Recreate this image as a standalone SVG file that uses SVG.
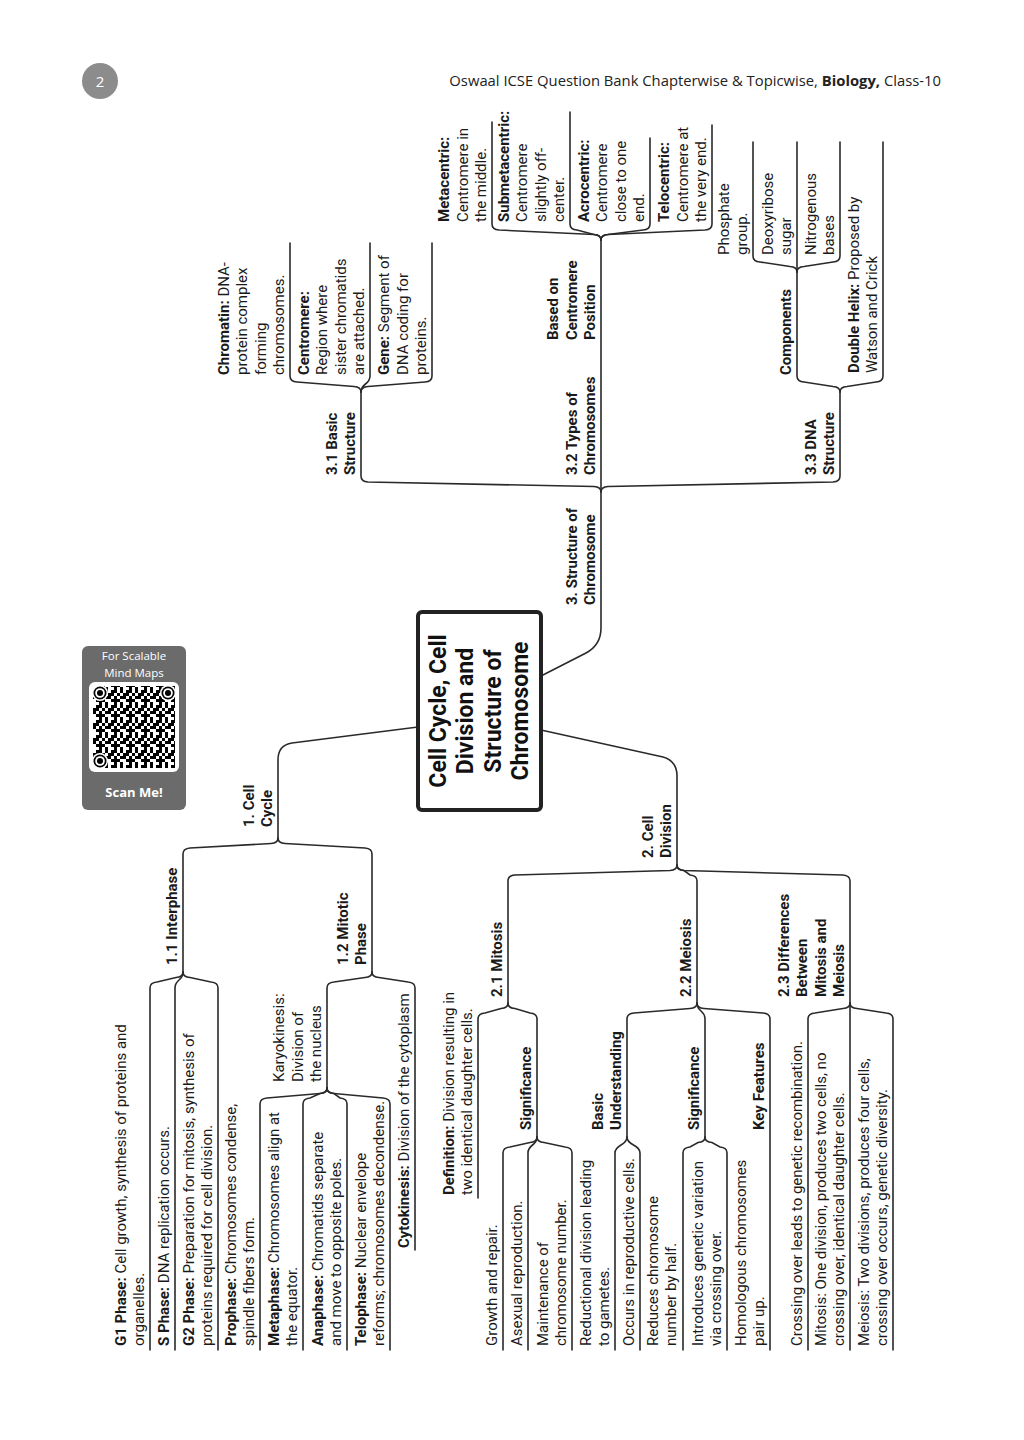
<svg xmlns="http://www.w3.org/2000/svg" width="1024" height="1440" viewBox="0 0 1024 1440">
<defs>
<style>
.t{font-family:Roboto,"Liberation Sans",Arial,sans-serif;font-size:15px;fill:#1a1a1a}
.b{font-weight:bold}
.c{fill:none;stroke:#2a2a2a;stroke-width:1.6;stroke-linecap:round}
.hd{font-family:"Open Sans","Noto Sans","Liberation Sans",sans-serif;fill:#222}
.w{font-family:"Open Sans","Noto Sans","Liberation Sans",sans-serif;fill:#fff}
.rt{font-family:Roboto,"Liberation Sans",Arial,sans-serif;font-size:23px;font-weight:bold;fill:#111}
</style>
<pattern id="qrp" width="15" height="15" patternUnits="userSpaceOnUse">
<rect x="0" y="0" width="3" height="3"/><rect x="6" y="0" width="3" height="3"/><rect x="9" y="0" width="3" height="3"/>
<rect x="3" y="3" width="3" height="3"/><rect x="6" y="3" width="3" height="3"/><rect x="12" y="3" width="3" height="3"/>
<rect x="0" y="6" width="3" height="3"/><rect x="3" y="6" width="3" height="3"/><rect x="9" y="6" width="3" height="3"/>
<rect x="6" y="9" width="3" height="3"/><rect x="9" y="9" width="3" height="3"/><rect x="12" y="9" width="3" height="3"/>
<rect x="0" y="12" width="3" height="3"/><rect x="9" y="12" width="3" height="3"/>
</pattern>
<g id="finder"><circle r="8" fill="#fff"/><circle r="6.5" fill="#000"/><circle r="4.8" fill="#fff"/><circle r="3" fill="#000"/></g>
</defs>
<rect width="1024" height="1440" fill="#fff"/>

<g id="header">
<circle cx="100" cy="81" r="18" fill="#8c8c8c"/>
<text class="w" x="100" y="86.5" font-size="15" text-anchor="middle">2</text>
<text class="hd" x="941" y="86" font-size="14.8" text-anchor="end">Oswaal ICSE Question Bank Chapterwise &amp; Topicwise, <tspan font-weight="bold">Biology,</tspan> Class-10</text>
</g>

<g id="qr">
<rect x="82" y="646" width="104" height="164" rx="6" fill="#6b6b6b"/>
<text class="w" x="134" y="660" font-size="11.5" text-anchor="middle">For Scalable</text>
<text class="w" x="134" y="677" font-size="11.5" text-anchor="middle">Mind Maps</text>
<rect x="89" y="682" width="90" height="90" rx="6" fill="#fff"/>
<rect x="93" y="686" width="82" height="82" fill="url(#qrp)"/>
<use href="#finder" x="100" y="693"/>
<use href="#finder" x="168" y="693"/>
<use href="#finder" x="100" y="761"/>
<text class="w" x="134" y="797" font-size="13" font-weight="bold" text-anchor="middle">Scan Me!</text>
</g>

<g id="connectors">
<path class="c" d="M418,727 L292,743 Q278,745 278,760 L278,838"/>
<path class="c" d="M541,730 L663,757 Q677,761 677,776 L677,865"/>
<path class="c" d="M541,676 L586,653 Q601,645 601,628 L601,240"/>
<path class="c" d="M278,838 Q278,843 271,843.5 L190,848 Q183,848.5 183,854 L183,972"/>
<path class="c" d="M278,838 Q278,843 285,843.5 L365,848 Q372,848.5 372,854 L372,972"/>
<path class="c" d="M183,972 Q183,977 176,977.5 L157,982 Q150,982.5 150,988 L150,1350"/>
<path class="c" d="M183,972 C183,981 175,979 175,988 L175,1350"/>
<path class="c" d="M183,972 Q183,977 190,977.5 L211,982 Q218,982.5 218,988 L218,1350"/>
<path class="c" d="M372,972 Q372,977 365,977.5 L334,982 Q327,982.5 327,988 L327,1088"/>
<path class="c" d="M372,972 Q372,977 379,977.5 L408,982 Q415,982.5 415,988 L415,1250"/>
<path class="c" d="M327,1088 Q327,1093 320,1093.5 L267,1098 Q260,1098.5 260,1104 L260,1350"/>
<path class="c" d="M327,1088 Q327,1093 320,1093.5 L310,1098 Q303,1098.5 303,1104 L303,1350"/>
<path class="c" d="M327,1088 Q327,1093 334,1093.5 L340,1098 Q347,1098.5 347,1104 L347,1350"/>
<path class="c" d="M327,1088 Q327,1093 334,1093.5 L383,1098 Q390,1098.5 390,1104 L390,1350"/>
<path class="c" d="M677,865 Q677,870 670,870.5 L515,875 Q508,875.5 508,881 L508,1003"/>
<path class="c" d="M677,865 Q677,870 684,870.5 L690,875 Q697,875.5 697,881 L697,1003"/>
<path class="c" d="M677,865 Q677,870 684,870.5 L843,875 Q850,875.5 850,881 L850,1003"/>
<path class="c" d="M508,1003 Q508,1008 501,1008.5 L485,1013 Q478,1013.5 478,1019 L478,1198"/>
<path class="c" d="M508,1003 Q508,1008 515,1008.5 L530,1013 Q537,1013.5 537,1019 L537,1137"/>
<path class="c" d="M537,1137 Q537,1142 530,1142.5 L510,1147 Q503,1147.5 503,1153 L503,1350"/>
<path class="c" d="M537,1137 C537,1146 528,1144 528,1153 L528,1350"/>
<path class="c" d="M537,1137 Q537,1142 544,1142.5 L565,1147 Q572,1147.5 572,1153 L572,1350"/>
<path class="c" d="M697,1003 Q697,1008 690,1008.5 L634,1013 Q627,1013.5 627,1019 L627,1137"/>
<path class="c" d="M697,1003 C697,1012 705,1010 705,1019 L705,1137"/>
<path class="c" d="M697,1003 Q697,1008 704,1008.5 L763,1013 Q770,1013.5 770,1019 L770,1350"/>
<path class="c" d="M627,1137 C627,1146 615,1144 615,1153 L615,1350"/>
<path class="c" d="M627,1137 C627,1146 640,1144 640,1153 L640,1350"/>
<path class="c" d="M705,1137 Q705,1142 698,1142.5 L690,1147 Q683,1147.5 683,1153 L683,1350"/>
<path class="c" d="M705,1137 Q705,1142 712,1142.5 L720,1147 Q727,1147.5 727,1153 L727,1350"/>
<path class="c" d="M850,1003 Q850,1008 843,1008.5 L815,1013 Q808,1013.5 808,1019 L808,1350"/>
<path class="c" d="M850,1003 L850,1350"/>
<path class="c" d="M850,1003 Q850,1008 857,1008.5 L886,1013 Q893,1013.5 893,1019 L893,1350"/>
<path class="c" d="M601,492 Q601,487 594,486.5 L368,482 Q361,481.5 361,476 L361,392"/>
<path class="c" d="M601,492 Q601,487 608,486.5 L833,482 Q840,481.5 840,476 L840,392"/>
<path class="c" d="M361,392 Q361,387 354,386.5 L297,382 Q290,381.5 290,376 L290,243"/>
<path class="c" d="M361,392 C361,383 370,385 370,376 L370,243"/>
<path class="c" d="M361,392 Q361,387 368,386.5 L425,382 Q432,381.5 432,376 L432,243"/>
<path class="c" d="M601,240 Q601,235 594,234.5 L499,230 Q492,229.5 492,224 L492,122"/>
<path class="c" d="M601,240 Q601,235 594,234.5 L577,230 Q570,229.5 570,224 L570,112"/>
<path class="c" d="M601,240 Q601,235 608,234.5 L643,230 Q650,229.5 650,224 L650,138"/>
<path class="c" d="M601,240 Q601,235 608,234.5 L705,230 Q712,229.5 712,224 L712,125"/>
<path class="c" d="M840,392 Q840,387 833,386.5 L804,382 Q797,381.5 797,376 L797,272"/>
<path class="c" d="M840,392 Q840,387 847,386.5 L876,382 Q883,381.5 883,376 L883,142"/>
<path class="c" d="M797,272 Q797,267 790,266.5 L760,262 Q753,261.5 753,256 L753,142"/>
<path class="c" d="M797,272 L797,142"/>
<path class="c" d="M797,272 Q797,267 804,266.5 L833,262 Q840,261.5 840,256 L840,142"/>
</g>

<g id="n-root">
<rect x="418" y="612" width="123" height="198" rx="4" fill="#fff" stroke="#222" stroke-width="4"/>
<text class="rt" text-anchor="middle" transform="translate(445.5,711) rotate(-90)">Cell Cycle, Cell<tspan x="0" dy="27.5">Division and</tspan><tspan x="0" dy="27.5">Structure of</tspan><tspan x="0" dy="27.5">Chromosome</tspan></text>
</g>

<g id="n-1"><text class="t b" transform="translate(253.5,827) rotate(-90)">1. Cell<tspan x="0" dy="18.5">Cycle</tspan></text></g>
<g id="n-1-1"><text class="t b" transform="translate(177,965) rotate(-90)">1.1 Interphase</text></g>
<g id="n-1-2"><text class="t b" transform="translate(347.5,965) rotate(-90)">1.2 Mitotic<tspan x="0" dy="18.5">Phase</tspan></text></g>
<g id="n-g1"><text class="t" transform="translate(125.5,1346) rotate(-90)"><tspan class="b">G1 Phase:</tspan> Cell growth, synthesis of proteins and<tspan x="0" dy="18.5">organelles.</tspan></text></g>
<g id="n-s"><text class="t" transform="translate(169,1346) rotate(-90)"><tspan class="b">S Phase:</tspan> DNA replication occurs.</text></g>
<g id="n-g2"><text class="t" transform="translate(193.5,1346) rotate(-90)"><tspan class="b">G2 Phase:</tspan> Preparation for mitosis, synthesis of<tspan x="0" dy="18.5">proteins required for cell division.</tspan></text></g>
<g id="n-karyo"><text class="t" transform="translate(284,1082) rotate(-90)">Karyokinesis:<tspan x="0" dy="18.5">Division of</tspan><tspan x="0" dy="18.5">the nucleus</tspan></text></g>
<g id="n-pro"><text class="t" transform="translate(235.5,1346) rotate(-90)"><tspan class="b">Prophase:</tspan> Chromosomes condense,<tspan x="0" dy="18.5">spindle fibers form.</tspan></text></g>
<g id="n-meta"><text class="t" transform="translate(278.5,1346) rotate(-90)"><tspan class="b">Metaphase:</tspan> Chromosomes align at<tspan x="0" dy="18.5">the equator.</tspan></text></g>
<g id="n-ana"><text class="t" transform="translate(322.5,1346) rotate(-90)"><tspan class="b">Anaphase:</tspan> Chromatids separate<tspan x="0" dy="18.5">and move to opposite poles.</tspan></text></g>
<g id="n-telo"><text class="t" transform="translate(365.5,1346) rotate(-90)"><tspan class="b">Telophase:</tspan> Nuclear envelope<tspan x="0" dy="18.5">reforms; chromosomes decondense.</tspan></text></g>
<g id="n-cyto"><text class="t" transform="translate(409,1248) rotate(-90)"><tspan class="b">Cytokinesis:</tspan> Division of the cytoplasm</text></g>

<g id="n-2"><text class="t b" transform="translate(652.5,858) rotate(-90)">2. Cell<tspan x="0" dy="18.5">Division</tspan></text></g>
<g id="n-2-1"><text class="t b" transform="translate(502,997) rotate(-90)">2.1 Mitosis</text></g>
<g id="n-2-2"><text class="t b" transform="translate(691,997) rotate(-90)">2.2 Meiosis</text></g>
<g id="n-2-3"><text class="t b" transform="translate(788.5,997) rotate(-90)">2.3 Differences<tspan x="0" dy="18.5">Between</tspan><tspan x="0" dy="18.5">Mitosis and</tspan><tspan x="0" dy="18.5">Meiosis</tspan></text></g>
<g id="n-def"><text class="t" transform="translate(453.5,1195) rotate(-90)"><tspan class="b">Definition:</tspan> Division resulting in<tspan x="0" dy="18.5">two identical daughter cells.</tspan></text></g>
<g id="n-sig1"><text class="t b" transform="translate(531,1130) rotate(-90)">Significance</text></g>
<g id="n-growth"><text class="t" transform="translate(497,1346) rotate(-90)">Growth and repair.</text></g>
<g id="n-asex"><text class="t" transform="translate(522,1346) rotate(-90)">Asexual reproduction.</text></g>
<g id="n-maint"><text class="t" transform="translate(547.5,1346) rotate(-90)">Maintenance of<tspan x="0" dy="18.5">chromosome number.</tspan></text></g>
<g id="n-basic"><text class="t b" transform="translate(602.5,1130) rotate(-90)">Basic<tspan x="0" dy="18.5">Understanding</tspan></text></g>
<g id="n-reduc"><text class="t" transform="translate(590.5,1346) rotate(-90)">Reductional division leading<tspan x="0" dy="18.5">to gametes.</tspan></text></g>
<g id="n-occurs"><text class="t" transform="translate(634,1346) rotate(-90)">Occurs in reproductive cells.</text></g>
<g id="n-sig2"><text class="t b" transform="translate(699,1130) rotate(-90)">Significance</text></g>
<g id="n-reduces"><text class="t" transform="translate(657.5,1346) rotate(-90)">Reduces chromosome<tspan x="0" dy="18.5">number by half.</tspan></text></g>
<g id="n-intro"><text class="t" transform="translate(702.5,1346) rotate(-90)">Introduces genetic variation<tspan x="0" dy="18.5">via crossing over.</tspan></text></g>
<g id="n-key"><text class="t b" transform="translate(764,1130) rotate(-90)">Key Features</text></g>
<g id="n-homo"><text class="t" transform="translate(745.5,1346) rotate(-90)">Homologous chromosomes<tspan x="0" dy="18.5">pair up.</tspan></text></g>
<g id="n-cross"><text class="t" transform="translate(802,1346) rotate(-90)">Crossing over leads to genetic recombination.</text></g>
<g id="n-mit"><text class="t" transform="translate(825.5,1346) rotate(-90)">Mitosis: One division, produces two cells, no<tspan x="0" dy="18.5">crossing over, identical daughter cells.</tspan></text></g>
<g id="n-mei"><text class="t" transform="translate(868.5,1346) rotate(-90)">Meiosis: Two divisions, produces four cells,<tspan x="0" dy="18.5">crossing over occurs, genetic diversity.</tspan></text></g>

<g id="n-3"><text class="t b" transform="translate(576.5,605) rotate(-90)">3. Structure of<tspan x="0" dy="18.5">Chromosome</tspan></text></g>
<g id="n-3-1"><text class="t b" transform="translate(336.5,475) rotate(-90)">3.1 Basic<tspan x="0" dy="18.5">Structure</tspan></text></g>
<g id="n-3-2"><text class="t b" transform="translate(576.5,475) rotate(-90)">3.2 Types of<tspan x="0" dy="18.5">Chromosomes</tspan></text></g>
<g id="n-3-3"><text class="t b" transform="translate(815.5,475) rotate(-90)">3.3 DNA<tspan x="0" dy="18.5">Structure</tspan></text></g>
<g id="n-based"><text class="t b" transform="translate(558,340) rotate(-90)">Based on<tspan x="0" dy="18.5">Centromere</tspan><tspan x="0" dy="18.5">Position</tspan></text></g>
<g id="n-chromatin"><text class="t" transform="translate(228.5,375) rotate(-90)"><tspan class="b">Chromatin:</tspan> DNA-<tspan x="0" dy="18.5">protein complex</tspan><tspan x="0" dy="18.5">forming</tspan><tspan x="0" dy="18.5">chromosomes.</tspan></text></g>
<g id="n-centromere"><text class="t" transform="translate(308.5,375) rotate(-90)"><tspan class="b">Centromere:</tspan><tspan x="0" dy="18.5">Region where</tspan><tspan x="0" dy="18.5">sister chromatids</tspan><tspan x="0" dy="18.5">are attached.</tspan></text></g>
<g id="n-gene"><text class="t" transform="translate(389,375) rotate(-90)"><tspan class="b">Gene:</tspan> Segment of<tspan x="0" dy="18.5">DNA coding for</tspan><tspan x="0" dy="18.5">proteins.</tspan></text></g>
<g id="n-metac"><text class="t" transform="translate(449,222) rotate(-90)"><tspan class="b">Metacentric:</tspan><tspan x="0" dy="18.5">Centromere in</tspan><tspan x="0" dy="18.5">the middle.</tspan></text></g>
<g id="n-submetac"><text class="t" transform="translate(508.5,222) rotate(-90)"><tspan class="b">Submetacentric:</tspan><tspan x="0" dy="18.5">Centromere</tspan><tspan x="0" dy="18.5">slightly off-</tspan><tspan x="0" dy="18.5">center.</tspan></text></g>
<g id="n-acroc"><text class="t" transform="translate(588.5,222) rotate(-90)"><tspan class="b">Acrocentric:</tspan><tspan x="0" dy="18.5">Centromere</tspan><tspan x="0" dy="18.5">close to one</tspan><tspan x="0" dy="18.5">end.</tspan></text></g>
<g id="n-teloc"><text class="t" transform="translate(669,222) rotate(-90)"><tspan class="b">Telocentric:</tspan><tspan x="0" dy="18.5">Centromere at</tspan><tspan x="0" dy="18.5">the very end.</tspan></text></g>
<g id="n-comp"><text class="t b" transform="translate(791,375) rotate(-90)">Components</text></g>
<g id="n-dh"><text class="t" transform="translate(858.5,373) rotate(-90)"><tspan class="b">Double Helix:</tspan> Proposed by<tspan x="0" dy="18.5">Watson and Crick</tspan></text></g>
<g id="n-phos"><text class="t" transform="translate(728.5,255) rotate(-90)">Phosphate<tspan x="0" dy="18.5">group.</tspan></text></g>
<g id="n-deoxy"><text class="t" transform="translate(772.5,255) rotate(-90)">Deoxyribose<tspan x="0" dy="18.5">sugar</tspan></text></g>
<g id="n-nitro"><text class="t" transform="translate(815.5,255) rotate(-90)">Nitrogenous<tspan x="0" dy="18.5">bases</tspan></text></g>
</svg>
